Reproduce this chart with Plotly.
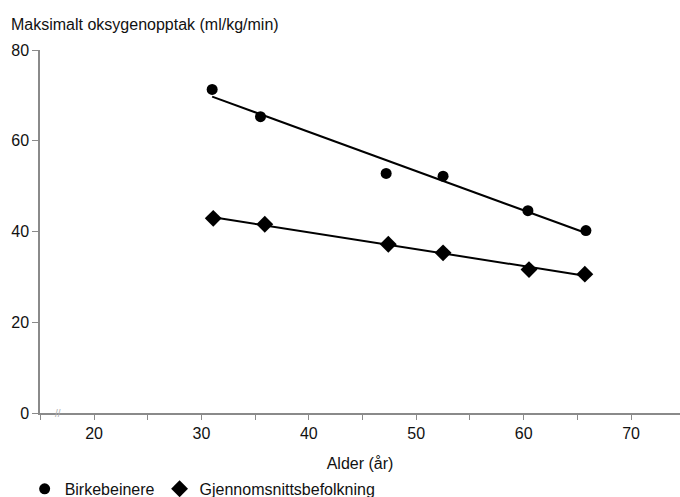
import numpy as np
import plotly.graph_objects as go

# Data
age_birke = [31.0, 35.5, 47.2, 52.5, 60.4, 65.8]
vo2_birke = [71.3, 65.3, 52.8, 52.2, 44.6, 40.2]
age_pop = [31.1, 35.9, 47.4, 52.5, 60.5, 65.7]
vo2_pop = [42.9, 41.6, 37.2, 35.3, 31.6, 30.6]

name_birke = "Birkebeinere"
name_pop = "Gjennomsnittsbefolkning"

FONT = "Liberation Sans, Arial, sans-serif"
TXT = "#111111"
AX = "#8a8a8a"
FS = 16

def fit(x, y):
    k, m = np.polyfit(x, y, 1)
    xs = np.array([min(x), max(x)])
    return xs, k * xs + m

fig = go.Figure()
for xs, ys in (fit(age_birke, vo2_birke), fit(age_pop, vo2_pop)):
    fig.add_trace(go.Scatter(x=xs, y=ys, mode="lines", line=dict(color="black", width=2),
                             showlegend=False, hoverinfo="skip"))

fig.add_trace(go.Scatter(x=age_birke, y=vo2_birke, mode="markers", name=name_birke,
                         marker=dict(symbol="circle", size=11, color="black")))
fig.add_trace(go.Scatter(x=age_pop, y=vo2_pop, mode="markers", name=name_pop,
                         marker=dict(symbol="diamond", size=13, color="black")))

fig.update_layout(
    width=680, height=497,
    margin=dict(l=40, r=0, t=50, b=84, autoexpand=False),
    paper_bgcolor="white", plot_bgcolor="white",
    font=dict(family=FONT, size=FS, color=TXT),
    title=dict(text="Maksimalt oksygenopptak (ml/kg/min)", x=11 / 680, xanchor="left",
               y=1 - 24 / 497, yanchor="middle", font=dict(size=FS, color=TXT)),
    showlegend=True,
    legend=dict(orientation="h", x=-0.024, xanchor="left", y=-0.209, yanchor="middle",
                font=dict(size=FS, color=TXT), itemwidth=30, bgcolor="rgba(0,0,0,0)"),
    xaxis=dict(range=[14.97, 74.56], dtick=10, tick0=0, showgrid=False, zeroline=False,
               automargin=False,
               showline=True, linecolor=AX, linewidth=1.5,
               ticks="outside", ticklen=5, tickcolor=AX, tickwidth=1,
               minor=dict(dtick=5, tick0=0, ticks="outside", ticklen=5, tickcolor=AX),
               tickfont=dict(size=FS, color=TXT),
               title=dict(text="Alder (år)", standoff=17, font=dict(size=FS, color=TXT))),
    yaxis=dict(range=[0, 80], dtick=20, showgrid=False, zeroline=False,
               automargin=False,
               showline=True, linecolor=AX, linewidth=1.5,
               ticks="outside", ticklen=6, tickcolor=AX, tickwidth=1,
               tickfont=dict(size=FS, color=TXT)),
)

fig.add_annotation(x=16.6, y=0, xref="x", yref="y", text="//", showarrow=False,
                   font=dict(size=10, color="#b0b0b0"))

fig.write_html("out.html", config={"displayModeBar": False},
               post_script="document.body.style.margin='0';document.body.style.overflow='hidden';")
